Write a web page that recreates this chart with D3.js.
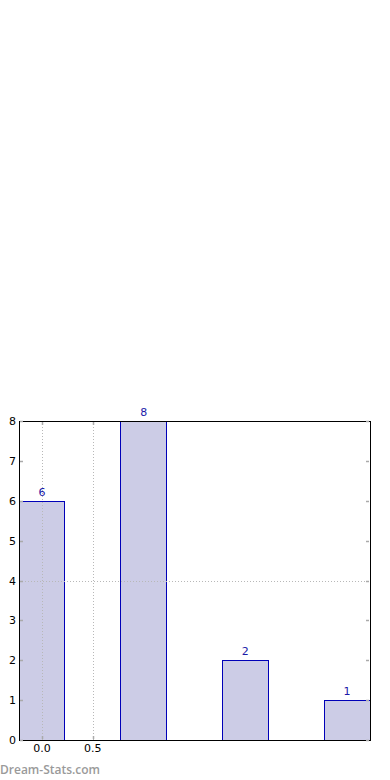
<!DOCTYPE html>
<html><head><meta charset="utf-8">
<script src="https://cdn.jsdelivr.net/npm/d3@7"></script>
<style>body{margin:0;background:#fff}svg{display:block}</style>
</head><body>
<svg id="c" width="390" height="780"></svg>
<script>
const positions = [0, 1, 2, 3];
const values = [6, 8, 2, 1];
const xTicks = [0.0, 0.5];
const yTicks = [0, 1, 2, 3, 4, 5, 6, 7, 8];
const gridY = [4];

const svg = d3.select("#c");
const L = 19, R = 370, T = 421, B = 740;
const barW = 0.45;
const x = d3.scaleLinear().domain([-0.225, 3.225]).range([L, R]);
const y = d3.scaleLinear().domain([0, 8]).range([B, T]);
const font = "DejaVu Sans, sans-serif";

// bars
svg.append("g").selectAll("rect").data(positions).join("rect")
  .attr("x", d => Math.floor(x(d - barW / 2)) + 0.5)
  .attr("width", (d) => Math.floor(x(d + barW / 2)) - Math.floor(x(d - barW / 2)))
  .attr("y", (d, i) => Math.round(y(values[i])) + 0.5)
  .attr("height", (d, i) => Math.round(y(0)) - Math.round(y(values[i])))
  .attr("fill", "navy").attr("fill-opacity", 0.2)
  .attr("stroke", "#0000b8").attr("stroke-width", 1);

// grid (dotted, drawn over bars)
const g = svg.append("g");
g.selectAll(".gx").data(xTicks).join("line")
  .attr("x1", d => Math.round(x(d)) + 0.5).attr("x2", d => Math.round(x(d)) + 0.5)
  .attr("y1", T).attr("y2", B)
  .attr("stroke", "#b8b8b8").attr("stroke-dasharray", "1,2");
g.selectAll(".gy").data(gridY).join("line")
  .attr("x1", L).attr("x2", R)
  .attr("y1", d => Math.round(y(d)) + 0.5).attr("y2", d => Math.round(y(d)) + 0.5)
  .attr("stroke", "#b8b8b8").attr("stroke-dasharray", "1,2");

// value labels
svg.append("g").selectAll("text").data(positions).join("text")
  .attr("x", d => x(d))
  .attr("y", (d, i) => y(values[i]) - 5)
  .attr("text-anchor", "middle")
  .attr("font-family", font).attr("font-size", 11)
  .attr("fill", "#1a1aa8")
  .text((d, i) => values[i]);

// frame
svg.append("rect").attr("x", L + 0.5).attr("y", T + 0.5)
  .attr("width", R - L).attr("height", B - T)
  .attr("fill", "none").attr("stroke", "#000").attr("stroke-width", 1);

// ticks (inward)
const tk = svg.append("g").attr("stroke", "#aaa").attr("stroke-width", 1.5);
yTicks.forEach(v => {
  const yy = Math.round(y(v)) + 0.5;
  tk.append("line").attr("x1", L + 1).attr("x2", L + 4).attr("y1", yy).attr("y2", yy);
  tk.append("line").attr("x1", R - 4).attr("x2", R - 1).attr("y1", yy).attr("y2", yy);
});
xTicks.forEach(v => {
  const xx = Math.round(x(v)) + 0.5;
  tk.append("line").attr("x1", xx).attr("x2", xx).attr("y1", T + 1).attr("y2", T + 4);
  tk.append("line").attr("x1", xx).attr("x2", xx).attr("y1", B - 4).attr("y2", B - 1);
});

// tick labels
svg.append("g").selectAll("text").data(yTicks).join("text")
  .attr("x", L - 3).attr("y", d => y(d) + 4)
  .attr("text-anchor", "end")
  .attr("font-family", font).attr("font-size", 11).attr("fill", "#000")
  .text(d => d);
svg.append("g").selectAll("text").data(xTicks).join("text")
  .attr("x", d => x(d)).attr("y", B + 12)
  .attr("text-anchor", "middle")
  .attr("font-family", font).attr("font-size", 11).attr("fill", "#000")
  .text(d => d.toFixed(1));

// watermark
svg.append("text").attr("x", 0).attr("y", 774)
  .attr("font-family", "Open Sans, sans-serif").attr("font-size", 12).attr("font-weight", 600)
  .attr("fill", "#9a9a9a").text("Dream-Stats.com");
</script>
</body></html>
